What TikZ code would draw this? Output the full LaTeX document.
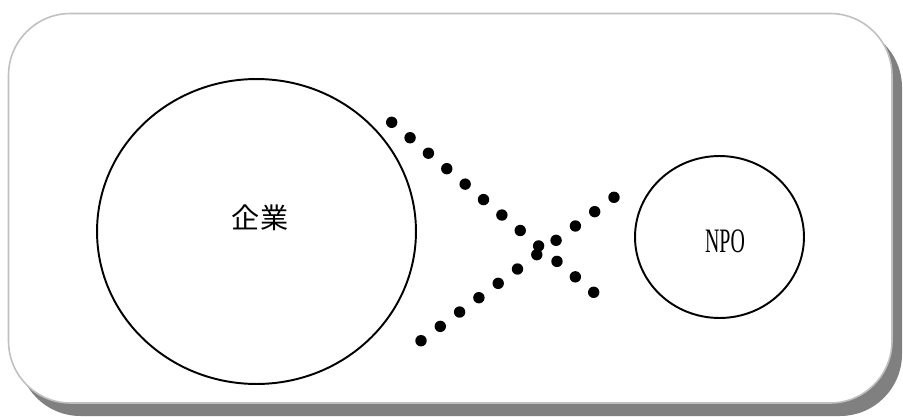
\documentclass[tikz,border=0pt]{standalone}
\usepackage{fontspec}
\newfontfamily\jpfont{Noto Sans CJK JP}
\newfontfamily\npofont[FakeStretch=0.58]{Liberation Serif}
\usepackage{tikz}
\usetikzlibrary{shapes.geometric,calc}
\usepackage{xcolor}
\definecolor{framegrey}{HTML}{C0C0C0}
\definecolor{shadowgrey}{HTML}{808080}

\begin{document}
\begin{tikzpicture}[
  x=0.02cm, y=-0.02cm,
  party/.style={draw, ellipse, line width=1.1pt, inner sep=0pt},
  dot/.style={fill=black}]
\useasboundingbox (0,0) rectangle (903,416);
\fill[shadowgrey, rounded corners=1.24cm] (18.5,25.5) rectangle (902,416);
\draw[framegrey, fill=white, line width=0.9pt, rounded corners=1.24cm]
  (8.5,13.5) rectangle (892,403);
\node[party, minimum width=6.38cm, minimum height=6.1cm] (firm) at (256.5,231.5) {};
\node[party, minimum width=3.38cm, minimum height=3.24cm] (npo) at (719.5,237) {};
\node[font=\jpfont\fontsize{16}{19}\selectfont] (firmlabel) at (260,218) {企業};
\node[font=\npofont\fontsize{19.5}{22}\selectfont] (npolabel) at (725,241) {NPO};
\coordinate (downstart) at (391.7,122.3);
\coordinate (downend) at (593.7,292.3);
\coordinate (upstart) at (421,340.7);
\coordinate (upend) at (614,197.3);
\foreach \i in {0,...,11} {
  \fill[dot] ($(downstart)!\i/11!(downend)$) circle (0.114cm);}
\foreach \i in {0,...,10} {
  \fill[dot] ($(upstart)!\i/10!(upend)$) circle (0.114cm);}
\end{tikzpicture}
\end{document}
